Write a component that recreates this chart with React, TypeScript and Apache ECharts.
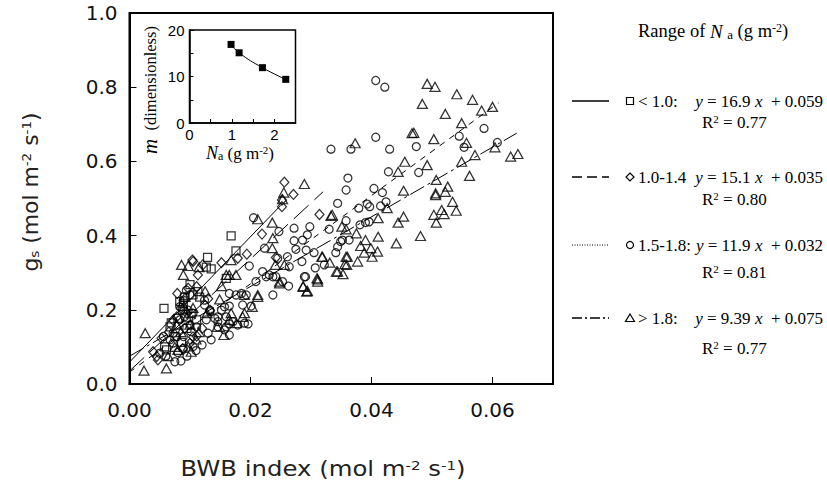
import React, { useEffect, useRef } from "react";
import * as echarts from "echarts";

// ---- data ----
const squarePts: number[][] = [
  [0.0168, 0.399], [0.0176, 0.359], [0.0129, 0.341], [0.0127, 0.315], [0.0135, 0.31],
  [0.0057, 0.204], [0.016, 0.285], [0.0083, 0.222], [0.0091, 0.234], [0.0113, 0.249],
  [0.0105, 0.24], [0.0116, 0.234], [0.0069, 0.165], [0.0067, 0.154], [0.008, 0.177],
  [0.0061, 0.092], [0.0111, 0.173], [0.0088, 0.2], [0.0095, 0.15], [0.01, 0.268],
  [0.0075, 0.128], [0.0086, 0.112], [0.0102, 0.19], [0.0089, 0.217], [0.0058, 0.1],
];

const diamondPts: number[][] = [
  [0.0256, 0.544], [0.0271, 0.511], [0.0252, 0.496], [0.0252, 0.478], [0.0314, 0.457],
  [0.0219, 0.404], [0.0194, 0.35], [0.0242, 0.341], [0.0179, 0.339], [0.0104, 0.334],
  [0.0152, 0.327], [0.0113, 0.294], [0.0079, 0.244], [0.0111, 0.262], [0.0097, 0.258],
  [0.0072, 0.172], [0.0078, 0.181], [0.0111, 0.129], [0.0053, 0.123], [0.0039, 0.087],
  [0.0045, 0.074], [0.0047, 0.065], [0.0133, 0.199], [0.0105, 0.127], [0.0091, 0.15],
  [0.0105, 0.33], [0.0121, 0.321], [0.0085, 0.205], [0.0095, 0.19], [0.0065, 0.14],
  [0.01, 0.11], [0.012, 0.15], [0.013, 0.23], [0.0088, 0.095],
];

const circlePts: number[][] = [
  [0.0407, 0.818], [0.0422, 0.8], [0.0333, 0.633], [0.0366, 0.633], [0.0407, 0.665],
  [0.043, 0.633], [0.0474, 0.64], [0.0586, 0.689], [0.0545, 0.668], [0.0553, 0.638],
  [0.0608, 0.651], [0.0428, 0.572], [0.0478, 0.57], [0.0361, 0.555], [0.0358, 0.523],
  [0.0404, 0.527], [0.0418, 0.516], [0.0344, 0.487], [0.0379, 0.474], [0.0393, 0.485],
  [0.0397, 0.478], [0.0415, 0.48], [0.0424, 0.491], [0.0298, 0.424], [0.033, 0.417],
  [0.0358, 0.44], [0.0381, 0.429], [0.039, 0.435], [0.0396, 0.437], [0.0286, 0.388],
  [0.0294, 0.402], [0.0349, 0.384], [0.0352, 0.388], [0.0363, 0.388], [0.0344, 0.37],
  [0.0341, 0.354], [0.0292, 0.361], [0.0305, 0.354], [0.0285, 0.33], [0.0307, 0.313],
  [0.0289, 0.289], [0.0205, 0.448], [0.0272, 0.42], [0.0247, 0.411], [0.0272, 0.386],
  [0.0223, 0.366], [0.0275, 0.363], [0.0264, 0.316], [0.0261, 0.343], [0.0198, 0.318],
  [0.022, 0.303], [0.0231, 0.294], [0.0237, 0.289], [0.0291, 0.289], [0.0263, 0.264],
  [0.0237, 0.24], [0.0209, 0.276], [0.0245, 0.339], [0.0322, 0.321], [0.0226, 0.289],
  [0.0242, 0.289], [0.0253, 0.276], [0.0165, 0.244], [0.0176, 0.24], [0.0185, 0.244],
  [0.0193, 0.24], [0.0165, 0.21], [0.0187, 0.213], [0.0201, 0.21], [0.0124, 0.213],
  [0.0133, 0.199], [0.0146, 0.181], [0.016, 0.181], [0.0157, 0.208], [0.013, 0.137],
  [0.0135, 0.119], [0.0146, 0.154], [0.016, 0.154], [0.0165, 0.162], [0.0171, 0.168],
  [0.0179, 0.159], [0.019, 0.164], [0.0196, 0.162], [0.0105, 0.101], [0.0089, 0.096],
  [0.0072, 0.11], [0.0067, 0.119], [0.0078, 0.128], [0.0089, 0.128], [0.0072, 0.137],
  [0.0094, 0.253], [0.01, 0.24], [0.0089, 0.226], [0.0083, 0.208], [0.0097, 0.199],
  [0.0105, 0.191], [0.0091, 0.181], [0.0083, 0.173], [0.01, 0.159], [0.0111, 0.154],
  [0.0102, 0.141], [0.0056, 0.128], [0.005, 0.083], [0.008, 0.085], [0.0095, 0.075],
  [0.0085, 0.062], [0.011, 0.09], [0.012, 0.105], [0.006, 0.075], [0.0075, 0.06],
  [0.0141, 0.177], [0.0146, 0.168], [0.0127, 0.173], [0.0152, 0.199], [0.0157, 0.146],
  [0.0165, 0.132], [0.0124, 0.226], [0.0133, 0.195],
];

const trianglePts: number[][] = [
  [0.0492, 0.809], [0.0505, 0.801], [0.0484, 0.755], [0.0541, 0.781], [0.0567, 0.766],
  [0.0522, 0.728], [0.0582, 0.737], [0.06, 0.747], [0.0549, 0.703], [0.047, 0.677],
  [0.0503, 0.66], [0.0557, 0.65], [0.0373, 0.649], [0.0571, 0.617], [0.0604, 0.638],
  [0.063, 0.613], [0.0642, 0.62], [0.0455, 0.599], [0.0444, 0.572], [0.0492, 0.59],
  [0.0549, 0.599], [0.0562, 0.561], [0.0507, 0.55], [0.0526, 0.532], [0.0522, 0.518],
  [0.0506, 0.514], [0.0506, 0.509], [0.0534, 0.491], [0.054, 0.467], [0.0516, 0.469],
  [0.052, 0.458], [0.0503, 0.456], [0.0507, 0.435], [0.0453, 0.521], [0.0426, 0.474],
  [0.0411, 0.447], [0.0453, 0.451], [0.0444, 0.435], [0.0481, 0.399], [0.0441, 0.379],
  [0.0411, 0.397], [0.039, 0.388], [0.0382, 0.372], [0.0399, 0.366], [0.0388, 0.354],
  [0.041, 0.357], [0.0401, 0.343], [0.036, 0.343], [0.0377, 0.33], [0.0356, 0.323],
  [0.0335, 0.456], [0.0351, 0.424], [0.0358, 0.417], [0.0375, 0.406], [0.0318, 0.343],
  [0.0331, 0.327], [0.0344, 0.303], [0.0353, 0.296], [0.0311, 0.282], [0.0287, 0.264],
  [0.0294, 0.251], [0.0289, 0.539], [0.0467, 0.676], [0.0255, 0.516], [0.0253, 0.498],
  [0.0212, 0.444], [0.0236, 0.435], [0.0237, 0.393], [0.0236, 0.366], [0.0333, 0.453],
  [0.0241, 0.321], [0.0256, 0.321], [0.0248, 0.276], [0.031, 0.285], [0.0311, 0.276],
  [0.0287, 0.262], [0.0293, 0.249], [0.0212, 0.235], [0.0319, 0.343], [0.0342, 0.303],
  [0.0358, 0.343], [0.0359, 0.321], [0.0086, 0.321], [0.0097, 0.318], [0.0089, 0.294],
  [0.0115, 0.315], [0.0168, 0.334], [0.0152, 0.264], [0.016, 0.294], [0.0149, 0.228],
  [0.0145, 0.154], [0.0156, 0.132], [0.0128, 0.191], [0.0026, 0.137], [0.0024, 0.036],
  [0.0061, 0.042], [0.0064, 0.075], [0.008, 0.092], [0.0102, 0.087], [0.0097, 0.101],
  [0.0165, 0.294], [0.0176, 0.294], [0.019, 0.24], [0.0203, 0.208], [0.0212, 0.24],
  [0.0165, 0.173], [0.0177, 0.164], [0.019, 0.191], [0.0168, 0.191], [0.0187, 0.181],
  [0.0248, 0.271], [0.009, 0.21], [0.0095, 0.18], [0.01, 0.16], [0.0085, 0.14],
  [0.011, 0.12], [0.0075, 0.1], [0.0092, 0.235], [0.0105, 0.205], [0.0078, 0.16],
  [0.0125, 0.25], [0.0115, 0.14],
];

const rangeLabels = ["< 1.0:", "1.0-1.4", "1.5-1.8:", "> 1.8:"];
const fitSlopes = [16.9, 15.1, 11.9, 9.39];
const fitIntercepts = [0.059, 0.035, 0.032, 0.075];
const fitR2 = ["0.77", "0.80", "0.81", "0.77"];
const fitXEnd = [0.025, 0.032, 0.061, 0.064];

const insetNa = [0.98, 1.17, 1.72, 2.27];
const insetM = [16.9, 15.1, 11.9, 9.39];

// ---- layout / style constants ----
const SANS = "DejaVu Sans";
const SERIF = "Liberation Serif";
const plotDash: any[] = ["solid", [20, 8], [6, 6], [16, 4, 3, 4]];
const legendDash: any[] = [null, [10, 5], [1, 1.5], [10, 3, 2, 3]];
const legendRowY = [101, 177, 245, 318];
const legendR2Y = [122, 199, 272, 348];

export default function App() {
  const ref = useRef<HTMLDivElement>(null);

  useEffect(() => {
    if (!ref.current) return;
    const chart = echarts.init(ref.current, undefined, { renderer: "svg" });

    const hollow = { color: "rgba(0,0,0,0)", borderColor: "#000", borderWidth: 1.25 };
    const scatterSets = [
      { data: squarePts, symbol: "rect", size: [8, 8] },
      { data: diamondPts, symbol: "diamond", size: [9, 10] },
      { data: circlePts, symbol: "circle", size: [8, 8] },
      { data: trianglePts, symbol: "triangle", size: [10, 9] },
    ];

    const series: any[] = [];
    scatterSets.forEach((s) => {
      series.push({
        type: "scatter",
        xAxisIndex: 0,
        yAxisIndex: 0,
        data: s.data,
        symbol: s.symbol,
        symbolSize: s.size,
        itemStyle: hollow,
        silent: true,
      });
    });
    fitSlopes.forEach((m, i) => {
      const b = fitIntercepts[i];
      const xe = fitXEnd[i];
      series.push({
        type: "line",
        xAxisIndex: 0,
        yAxisIndex: 0,
        data: [
          [0, b],
          [xe, m * xe + b],
        ],
        showSymbol: false,
        symbol: "none",
        lineStyle: { color: "#000", width: 1, type: plotDash[i] },
        z: 3,
        silent: true,
      });
    });
    // inset
    series.push({
      type: "line",
      xAxisIndex: 1,
      yAxisIndex: 1,
      data: insetNa.map((v, i) => [v, insetM[i]]),
      smooth: 0.5,
      symbol: "rect",
      symbolSize: 7,
      showSymbol: true,
      itemStyle: { color: "#000" },
      lineStyle: { color: "#000", width: 1 },
      silent: true,
    });

    const graphic: any[] = [];
    // axis titles
    graphic.push({
      type: "text",
      x: 323,
      y: 469,
      scaleX: 1.16,
      style: {
        text: "BWB index (mol m{sup|-2} s{sup|-1})",
        fontFamily: SANS,
        fontSize: 21,
        fill: "#222",
        align: "center",
        verticalAlign: "middle",
        rich: { sup: { fontSize: 13, fontFamily: SANS, verticalAlign: "top", fill: "#222" } },
      },
    });
    graphic.push({
      type: "text",
      x: 31,
      y: 192,
      rotation: Math.PI / 2,
      scaleX: 1.04,
      style: {
        text: "g{sub|s} (mol m{sup|-2} s{sup|-1})",
        fontFamily: SANS,
        fontSize: 21,
        fill: "#222",
        align: "center",
        verticalAlign: "middle",
        rich: {
          sup: { fontSize: 13, fontFamily: SANS, verticalAlign: "top", fill: "#222" },
          sub: { fontSize: 13, fontFamily: SANS, verticalAlign: "bottom", fill: "#222" },
        },
      },
    });
    // inset titles
    graphic.push({
      type: "text",
      x: 150,
      y: 90,
      rotation: Math.PI / 2,
      style: {
        text: "{m|m}  (dimensionless)",
        fontFamily: SERIF,
        fontSize: 16.5,
        fill: "#000",
        align: "center",
        verticalAlign: "middle",
        rich: { m: { fontSize: 21, fontStyle: "italic", fontFamily: SERIF, fill: "#000" } },
      },
    });
    graphic.push({
      type: "text",
      x: 240,
      y: 153,
      style: {
        text: "{n|N}{sub|a} (g m{sup|-2})",
        fontFamily: SERIF,
        fontSize: 17,
        fill: "#000",
        align: "center",
        verticalAlign: "middle",
        rich: {
          n: { fontSize: 18, fontStyle: "italic", fontFamily: SERIF, fill: "#000" },
          sub: { fontSize: 12, fontFamily: SERIF, verticalAlign: "bottom", fill: "#000" },
          sup: { fontSize: 11, fontFamily: SERIF, verticalAlign: "top", fill: "#000" },
        },
      },
    });
    // legend title
    graphic.push({
      type: "text",
      x: 638,
      y: 31,
      style: {
        text: "Range of {n|N} {sub|a} (g m{sup|-2})",
        fontFamily: SERIF,
        fontSize: 18.5,
        fill: "#000",
        align: "left",
        verticalAlign: "middle",
        rich: {
          n: { fontSize: 19, fontStyle: "italic", fontFamily: SERIF, fill: "#000" },
          sub: { fontSize: 13, fontFamily: SERIF, verticalAlign: "bottom", fill: "#000" },
          sup: { fontSize: 12, fontFamily: SERIF, verticalAlign: "top", fill: "#000" },
        },
      },
    });
    // legend rows
    rangeLabels.forEach((lab, i) => {
      const y = legendRowY[i];
      const ls: any = { stroke: "#000", lineWidth: i === 2 ? 1 : 1.3 };
      if (legendDash[i]) ls.lineDash = legendDash[i];
      graphic.push({ type: "line", shape: { x1: 572, y1: y, x2: 609, y2: y }, style: ls });
      const mk = { fill: "none", stroke: "#000", lineWidth: 1.2 };
      const cx = 630;
      if (i === 0) graphic.push({ type: "rect", shape: { x: cx - 3.5, y: y - 3.5, width: 7, height: 7 }, style: mk });
      if (i === 1)
        graphic.push({
          type: "polygon",
          shape: { points: [[cx, y - 4], [cx + 4, y], [cx, y + 4], [cx - 4, y]] },
          style: mk,
        });
      if (i === 2) graphic.push({ type: "circle", shape: { cx, cy: y, r: 3.5 }, style: mk });
      if (i === 3)
        graphic.push({
          type: "polygon",
          shape: { points: [[cx, y - 4], [cx + 4.5, y + 3.5], [cx - 4.5, y + 3.5]] },
          style: mk,
        });
      graphic.push({
        type: "text",
        x: 638,
        y,
        style: { text: lab, fontFamily: SERIF, fontSize: 17, fill: "#000", align: "left", verticalAlign: "middle" },
      });
      graphic.push({
        type: "text",
        x: 823,
        y,
        style: {
          text: `{i|y} = ${fitSlopes[i]} {i|x}  + ${fitIntercepts[i].toFixed(3)}`,
          fontFamily: SERIF,
          fontSize: 17,
          fill: "#000",
          align: "right",
          verticalAlign: "middle",
          rich: { i: { fontStyle: "italic", fontFamily: SERIF, fontSize: 17, fill: "#000" } },
        },
      });
      graphic.push({
        type: "text",
        x: 702,
        y: legendR2Y[i],
        style: {
          text: `R{sup|2} = ${fitR2[i]}`,
          fontFamily: SERIF,
          fontSize: 17,
          fill: "#000",
          align: "left",
          verticalAlign: "middle",
          rich: { sup: { fontSize: 11, fontFamily: SERIF, verticalAlign: "top", fill: "#000" } },
        },
      });
    });

    const option: any = {
      animation: false,
      backgroundColor: "#fff",
      grid: [
        { left: 129.5, top: 13, width: 423.5, height: 371, show: true, borderColor: "#000", borderWidth: 2, backgroundColor: "rgba(0,0,0,0)" },
        { left: 189.5, top: 30, width: 106, height: 93, show: true, borderColor: "#000", borderWidth: 1.5, backgroundColor: "rgba(0,0,0,0)" },
      ],
      xAxis: [
        {
          gridIndex: 0,
          type: "value",
          min: 0,
          max: 0.07,
          interval: 0.02,
          axisLine: { show: true, lineStyle: { color: "#000", width: 2 } },
          axisTick: { show: true, inside: true, length: 7, lineStyle: { color: "#000", width: 1 } },
          axisLabel: {
            formatter: (v: number) => (Math.abs(v - 0.07) < 1e-9 ? "" : v.toFixed(2)),
            fontFamily: SANS,
            fontSize: 20,
            color: "#111",
            margin: 16,
          },
          splitLine: { show: false },
        },
        {
          gridIndex: 1,
          type: "value",
          min: 0,
          max: 2.5,
          interval: 0.5,
          axisLine: { show: true, lineStyle: { color: "#000", width: 1.5 } },
          axisTick: { show: true, inside: true, length: 4, lineStyle: { color: "#000", width: 1 } },
          axisLabel: {
            formatter: (v: number) => (Math.abs(v - Math.round(v)) < 1e-9 && v < 2.4 ? String(Math.round(v)) : ""),
            fontFamily: "Liberation Sans",
            fontSize: 15,
            color: "#000",
            margin: 4,
          },
          splitLine: { show: false },
        },
      ],
      yAxis: [
        {
          gridIndex: 0,
          type: "value",
          min: 0,
          max: 1,
          interval: 0.2,
          axisLine: { show: true, lineStyle: { color: "#000", width: 2 } },
          axisTick: { show: true, inside: true, length: 7, lineStyle: { color: "#000", width: 1 } },
          axisLabel: {
            formatter: (v: number) => v.toFixed(1),
            fontFamily: SANS,
            fontSize: 20,
            color: "#111",
            margin: 12,
          },
          splitLine: { show: false },
        },
        {
          gridIndex: 1,
          type: "value",
          min: 0,
          max: 20,
          interval: 5,
          axisLine: { show: true, lineStyle: { color: "#000", width: 1.5 } },
          axisTick: { show: true, inside: true, length: 4, lineStyle: { color: "#000", width: 1 } },
          axisLabel: {
            formatter: (v: number) => (v % 10 === 0 ? String(v) : ""),
            fontFamily: "Liberation Sans",
            fontSize: 15,
            color: "#000",
            margin: 5,
          },
          splitLine: { show: false },
        },
      ],
      series,
      graphic,
    };

    chart.setOption(option);
    return () => chart.dispose();
  }, []);

  return (
    <div
      ref={ref}
      style={{ position: "fixed", left: 0, top: 0, width: 827, height: 486, background: "#fff" }}
    />
  );
}
